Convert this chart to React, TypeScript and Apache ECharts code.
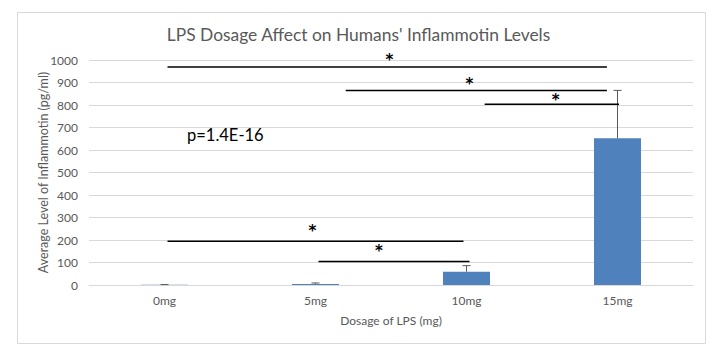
import React, { useEffect, useRef } from "react";
import * as echarts from "echarts";

const categories = ["0mg", "5mg", "10mg", "15mg"];
const means = [1, 5, 59, 652];
const errorTops = [2, 9, 86, 865];
const yTicks = { min: 0, max: 1000, interval: 100 };

// significance brackets: [startPos, endPos, level] in category-index units
const sigLines = [
  [0.02, 2.93, 969],
  [1.2, 2.93, 865],
  [2.12, 3.01, 803],
  [0.02, 1.98, 194],
  [1.02, 2.02, 104],
];
// star marks: [pos, level]
const sigStars = [
  [1.49, 1013],
  [2.02, 907],
  [2.59, 836],
  [0.98, 253],
  [1.42, 164],
];
const pValueText = "p=1.4E-16";

const FONT = "Lato, 'Liberation Sans', sans-serif";
const GREY = "#595959";

export default function App() {
  const ref = useRef<HTMLDivElement>(null);
  useEffect(() => {
    if (!ref.current) return;
    const chart = echarts.init(ref.current, null, { renderer: "svg" });
    chart.setOption({
      animation: false,
      backgroundColor: "#fff",
      textStyle: { fontFamily: FONT },
      title: {
        text: "LPS Dosage Affect on Humans' Inflammotin Levels",
        left: "center",
        top: 21,
        textStyle: { fontFamily: FONT, fontSize: 17.4, fontWeight: "normal", color: GREY },
      },
      graphic: [
        {
          type: "rect",
          shape: { x: 17.5, y: 12.5, width: 688, height: 331 },
          style: { fill: "none", stroke: "#d9d9d9", lineWidth: 1 },
          silent: true,
        },
        {
          type: "text",
          x: 187,
          y: 135,
          style: {
            text: pValueText,
            fontFamily: FONT,
            fontSize: 16.5,
            fill: "#000",
            align: "left",
            verticalAlign: "middle",
          },
        },
      ],
      grid: { left: 89, right: 24, top: 60, bottom: 66, containLabel: false },
      xAxis: [
        {
          type: "category",
          data: categories,
          axisLine: { lineStyle: { color: "#d9d9d9" } },
          axisTick: { show: false },
          axisLabel: { color: GREY, fontSize: 12, margin: 9, fontFamily: FONT },
          name: "Dosage of LPS (mg)",
          nameLocation: "middle",
          nameGap: 29,
          nameMoveOverlap: false,
          nameTextStyle: { color: GREY, fontSize: 12, fontFamily: FONT },
        },
        {
          type: "value",
          min: -0.5,
          max: 3.5,
          show: false,
        },
      ],
      yAxis: {
        type: "value",
        min: yTicks.min,
        max: yTicks.max,
        interval: yTicks.interval,
        axisLine: { show: false },
        axisTick: { show: false },
        splitLine: { lineStyle: { color: "#d9d9d9" } },
        axisLabel: {
          color: GREY,
          fontSize: 12,
          margin: 11,
          fontFamily: FONT,
          formatter: (v: number) => String(v),
        },
        name: "Average Level of Inflammotin (pg/ml)",
        nameLocation: "middle",
        nameGap: 39,
        nameMoveOverlap: false,
        nameTextStyle: { color: GREY, fontSize: 12.5, fontFamily: FONT },
      },
      series: [
        {
          type: "bar",
          data: means,
          barWidth: 47,
          itemStyle: { color: "#4f81bd" },
        },
        {
          type: "custom",
          clip: false,
          data: means.map((m, i) => [i, m, errorTops[i]]),
          renderItem: (params: any, api: any) => {
            const i = api.value(0);
            const base = api.coord([i, api.value(1)]);
            const top = api.coord([i, api.value(2)]);
            const style = { stroke: GREY, lineWidth: 1 };
            return {
              type: "group",
              children: [
                { type: "line", shape: { x1: base[0], y1: base[1], x2: top[0], y2: top[1] }, style },
                { type: "line", shape: { x1: top[0] - 4, y1: top[1], x2: top[0] + 4, y2: top[1] }, style },
              ],
            };
          },
          z: 3,
        },
        {
          type: "custom",
          xAxisIndex: 1,
          clip: false,
          data: sigLines,
          renderItem: (params: any, api: any) => {
            const a = api.coord([api.value(0), api.value(2)]);
            const b = api.coord([api.value(1), api.value(2)]);
            return {
              type: "line",
              shape: { x1: a[0], y1: a[1], x2: b[0], y2: b[1] },
              style: { stroke: "#000", lineWidth: 1.5 },
            };
          },
          z: 4,
        },
        {
          type: "custom",
          xAxisIndex: 1,
          clip: false,
          data: sigStars,
          renderItem: (params: any, api: any) => {
            const p = api.coord([api.value(0), api.value(1)]);
            return {
              type: "text",
              x: p[0],
              y: p[1] + 3,
              style: {
                text: "*",
                align: "center",
                verticalAlign: "middle",
                fontFamily: "'DejaVu Sans', sans-serif",
                fontSize: 15,
                fontWeight: "bold",
                fill: "#000",
              },
            };
          },
          z: 4,
        },
      ],
    });
    return () => chart.dispose();
  }, []);
  return (
    <div
      ref={ref}
      style={{ position: "fixed", left: 0, top: 0, width: 717, height: 351 }}
    />
  );
}
